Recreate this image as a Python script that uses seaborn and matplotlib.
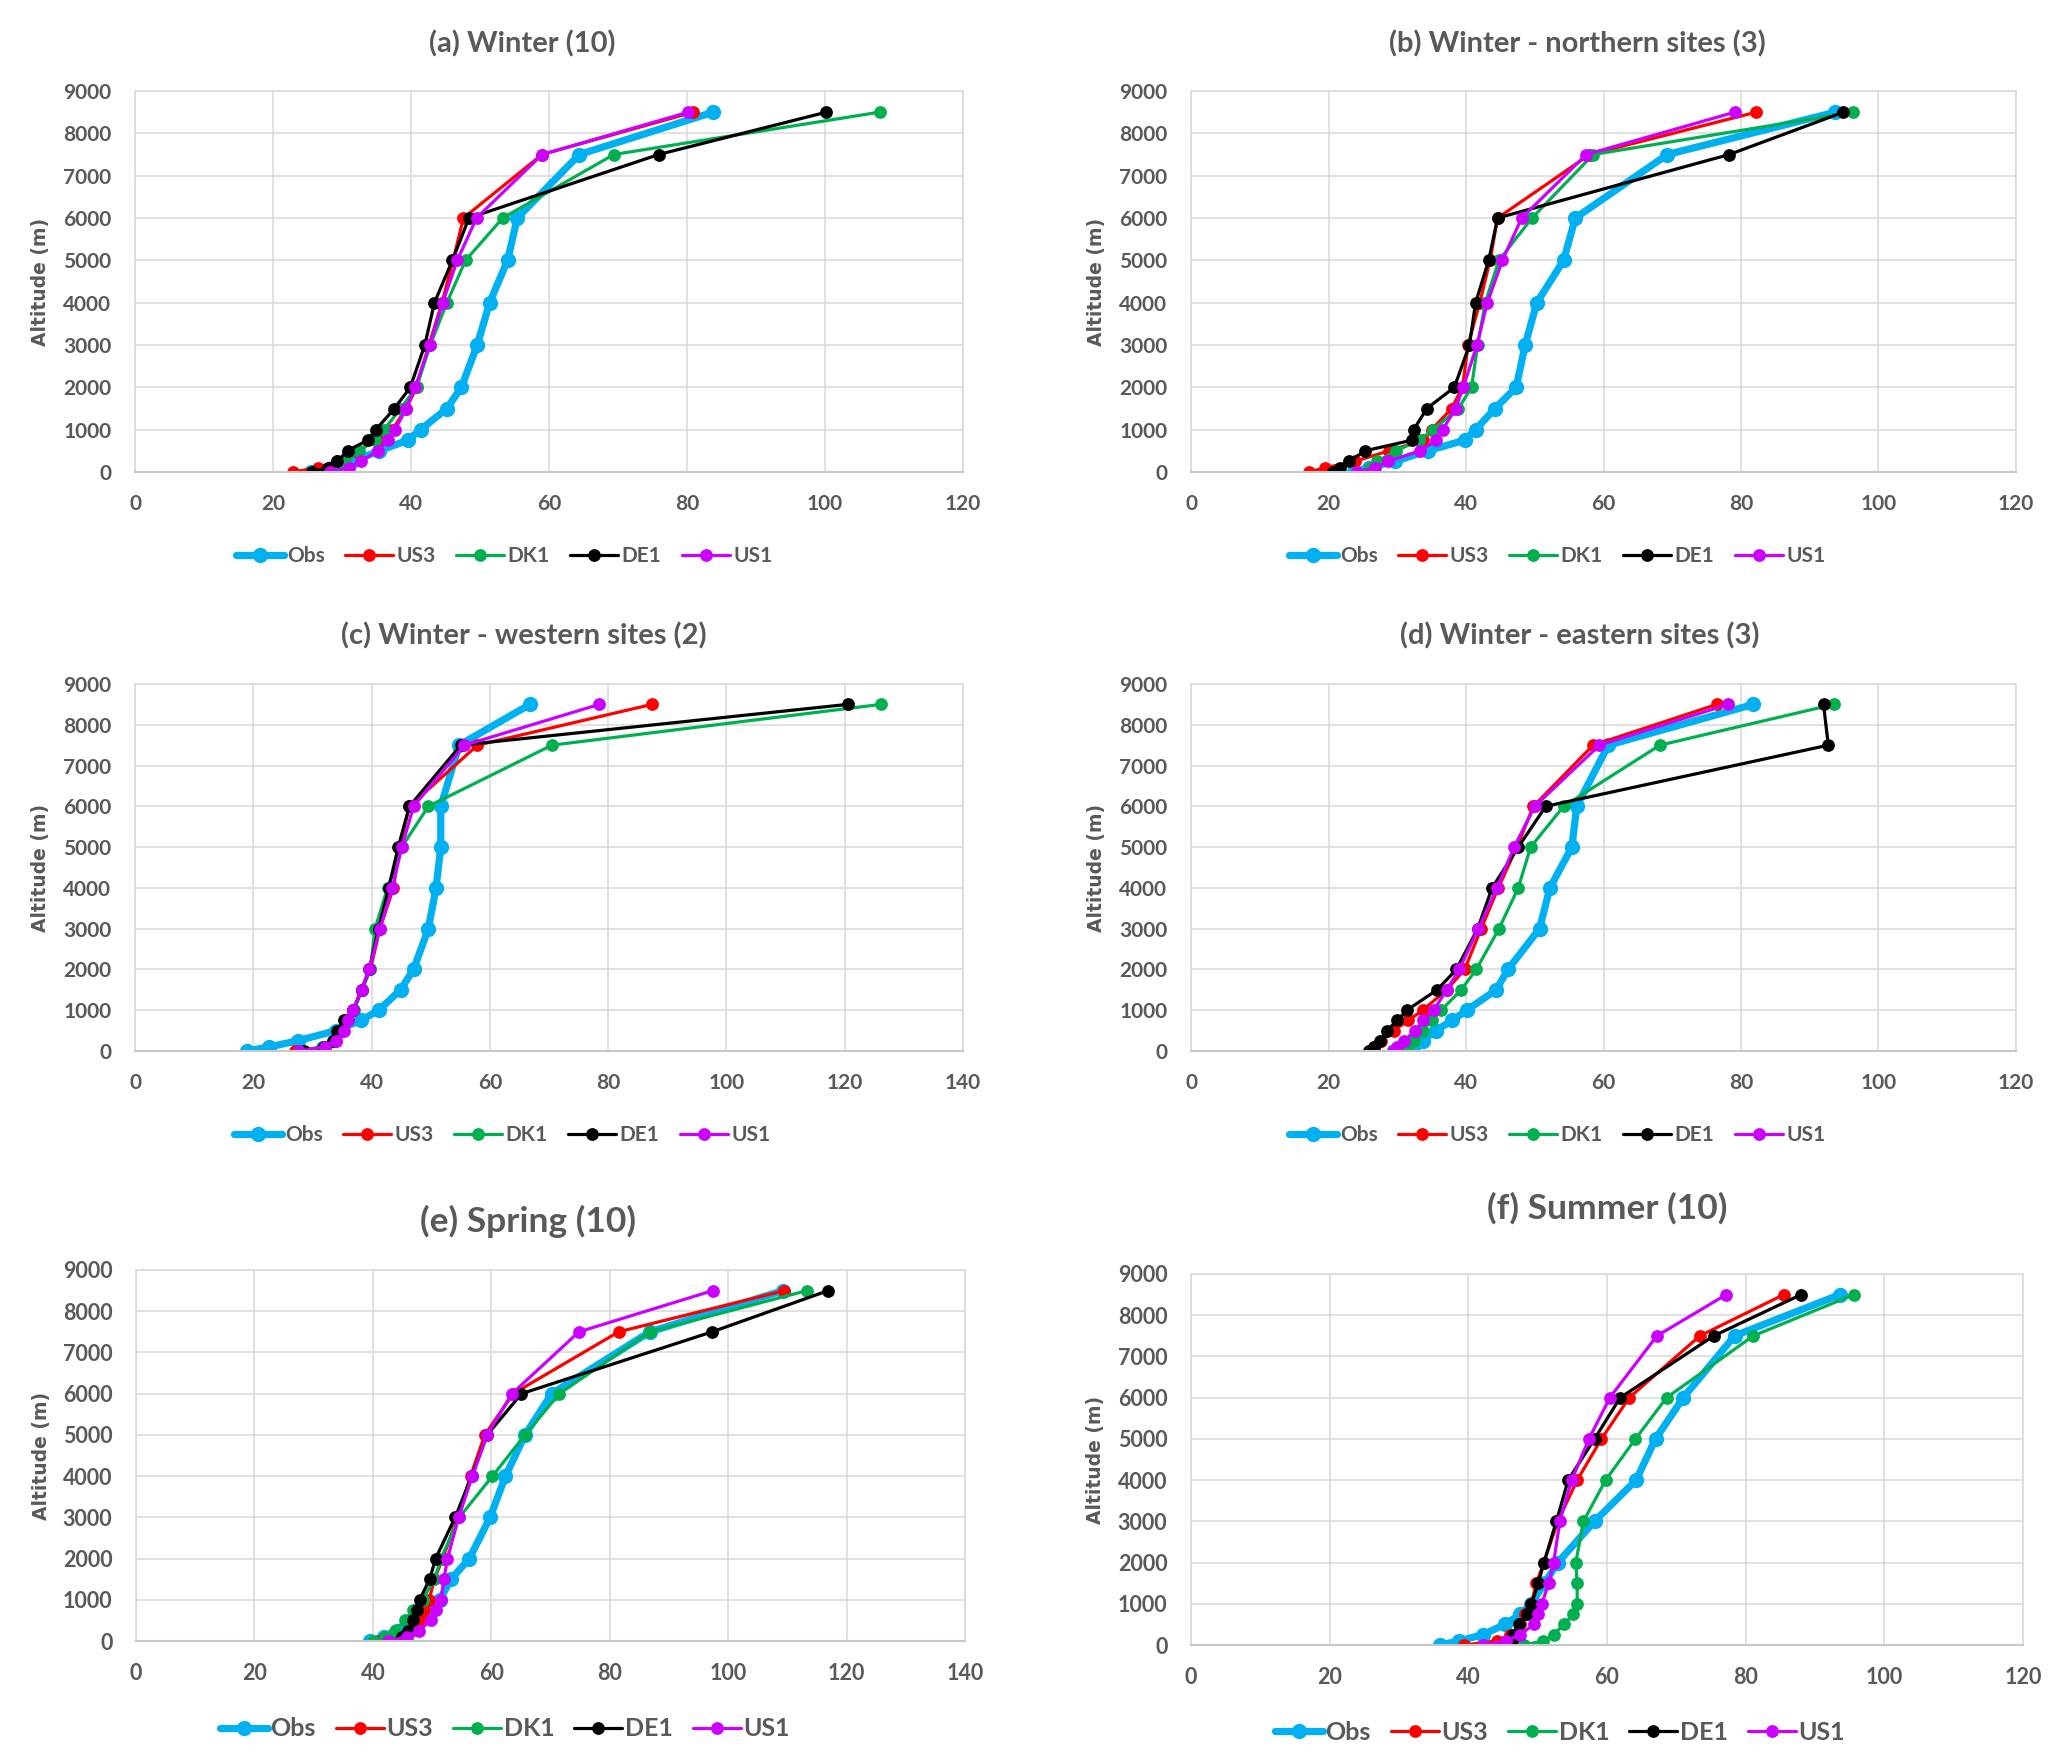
import numpy as np
import pandas as pd
import matplotlib
matplotlib.use("Agg")
import matplotlib.pyplot as plt
import seaborn as sns

# ---------------- data ----------------
ALT = [0, 100, 250, 500, 750, 1000, 1500, 2000, 3000, 4000, 5000, 6000, 7500, 8500]
MODELS = ["Obs", "US3", "DK1", "DE1", "US1"]

a_obs = [25.5, 28.5, 31.5, 35.4, 39.5, 41.4, 45.2, 47.3, 49.6, 51.4, 54.0, 55.4, 64.4, 83.8]
a_us3 = [22.9, 26.5, 29.3, 32.0, 35.0, 37.3, 39.3, 40.8, 42.6, 44.5, 46.1, 47.6, 59.0, 80.9]
a_dk1 = [28.2, 28.8, 30.4, 32.5, 34.8, 36.1, 38.5, 40.8, 42.8, 45.2, 47.9, 53.3, 69.4, 107.9]
a_de1 = [25.7, 28.0, 29.3, 30.8, 33.7, 34.9, 37.6, 39.9, 42.0, 43.4, 46.0, 48.4, 75.9, 100.2]
a_us1 = [28.3, 31.0, 32.7, 35.2, 36.6, 37.7, 39.3, 40.6, 42.7, 44.6, 46.7, 49.5, 59.0, 80.2]

b_obs = [23.7, 25.9, 29.6, 34.4, 39.8, 41.4, 44.2, 47.3, 48.6, 50.3, 54.2, 55.9, 69.3, 93.7]
b_us3 = [17.2, 19.5, 23.8, 28.8, 33.8, 35.0, 37.9, 39.5, 40.3, 42.0, 43.5, 44.6, 58.0, 82.2]
b_dk1 = [25.7, 26.0, 27.1, 29.8, 33.2, 35.2, 38.9, 40.8, 41.7, 42.8, 44.8, 49.6, 58.5, 96.3]
b_de1 = [20.6, 21.6, 23.0, 25.3, 32.1, 32.4, 34.3, 38.3, 40.5, 41.4, 43.3, 44.6, 78.3, 94.9]
b_us1 = [24.2, 26.8, 28.6, 33.3, 35.7, 36.6, 38.5, 39.6, 41.6, 43.1, 45.3, 48.1, 57.5, 79.1]

c_obs = [18.9, 22.7, 27.5, 34.0, 38.2, 41.2, 44.9, 47.1, 49.6, 50.9, 51.7, 51.7, 54.8, 66.8]
c_us3 = [27.0, 32.1, 34.0, 34.9, 36.0, 36.9, 38.3, 39.8, 41.4, 43.7, 44.7, 46.4, 57.9, 87.4]
c_dk1 = [27.8, 31.7, 33.4, 34.3, 35.9, 37.0, 38.4, 39.8, 40.6, 42.7, 45.1, 49.6, 70.5, 126.1]
c_de1 = [28.6, 32.0, 33.4, 34.2, 35.3, 36.9, 38.3, 39.6, 41.2, 42.9, 44.5, 46.4, 55.1, 120.5]
c_us1 = [27.8, 32.1, 34.0, 35.3, 36.0, 36.9, 38.3, 39.6, 41.4, 43.5, 45.1, 47.1, 55.7, 78.5]

d_obs = [29.5, 32.3, 33.7, 35.6, 38.0, 40.1, 44.4, 46.1, 50.7, 52.2, 55.4, 56.1, 60.7, 81.8]
d_us3 = [25.9, 26.6, 27.6, 29.5, 31.6, 33.7, 37.2, 39.8, 42.2, 44.7, 47.4, 49.8, 58.5, 76.5]
d_dk1 = [30.7, 31.4, 32.4, 33.7, 35.0, 36.4, 39.3, 41.5, 44.8, 47.6, 49.4, 54.2, 68.2, 93.5]
d_de1 = [25.9, 26.6, 27.5, 28.5, 30.0, 31.4, 35.8, 38.6, 41.7, 43.8, 47.6, 51.6, 92.7, 92.0]
d_us1 = [29.4, 30.0, 31.0, 32.6, 33.8, 35.3, 37.2, 39.0, 41.8, 44.5, 47.0, 50.0, 59.4, 78.1]

e_obs = [39.5, 41.8, 44.0, 47.5, 49.5, 51.3, 53.2, 56.3, 59.8, 62.4, 65.7, 70.2, 86.8, 109.3]
e_us3 = [41.1, 44.3, 46.5, 48.1, 48.7, 49.5, 50.4, 51.8, 54.3, 56.5, 58.9, 63.7, 81.5, 109.5]
e_dk1 = [40.0, 42.0, 43.7, 45.4, 46.8, 48.4, 50.4, 51.5, 54.6, 60.2, 65.7, 71.5, 86.8, 113.3]
e_de1 = [44.5, 45.0, 45.9, 46.8, 47.4, 47.9, 49.6, 50.6, 53.9, 56.7, 59.3, 65.1, 97.3, 116.9]
e_us1 = [42.6, 45.7, 47.8, 49.8, 50.6, 51.5, 52.0, 52.6, 54.5, 56.8, 59.3, 63.5, 74.8, 97.4]

f_obs = [35.9, 38.7, 42.1, 45.3, 47.5, 49.1, 51.0, 52.9, 58.2, 64.2, 67.0, 71.0, 78.4, 93.6]
f_us3 = [39.4, 44.1, 46.0, 47.5, 48.2, 49.1, 49.8, 50.9, 52.9, 55.7, 59.2, 63.2, 73.4, 85.5]
f_dk1 = [48.0, 50.8, 52.3, 53.8, 55.1, 55.7, 55.7, 55.5, 56.6, 59.8, 64.1, 68.6, 81.1, 95.6]
f_de1 = [45.3, 46.3, 46.5, 47.3, 48.5, 49.1, 50.1, 50.9, 52.7, 54.4, 58.2, 61.9, 75.4, 88.0]
f_us1 = [42.1, 45.4, 47.5, 49.4, 50.0, 50.6, 51.6, 52.3, 53.2, 54.9, 57.4, 60.4, 67.2, 77.2]

TITLES = ["(a) Winter (10)", "(b) Winter - northern sites (3)",
          "(c) Winter - western sites (2)", "(d) Winter - eastern sites (3)",
          "(e) Spring (10)", "(f) Summer (10)"]
XMAX = [120, 120, 140, 120, 140, 120]
YLABEL = "Altitude (m)"

PANELS = [
    [a_obs, a_us3, a_dk1, a_de1, a_us1],
    [b_obs, b_us3, b_dk1, b_de1, b_us1],
    [c_obs, c_us3, c_dk1, c_de1, c_us1],
    [d_obs, d_us3, d_dk1, d_de1, d_us1],
    [e_obs, e_us3, e_dk1, e_de1, e_us1],
    [f_obs, f_us3, f_dk1, f_de1, f_us1],
]

# ---------------- style ----------------
sns.set_style("white")
plt.rcParams["font.family"] = ["Lato", "DejaVu Sans"]
TXT = "#595959"
COLORS = {"Obs": "#00B0F0", "US3": "#FF0000", "DK1": "#00B050",
          "DE1": "#000000", "US1": "#CC00FF"}
LW = {"Obs": 5.2, "US3": 2.3, "DK1": 2.3, "DE1": 2.3, "US1": 2.3}
MS = {"Obs": 11.0, "US3": 9.2, "DK1": 9.2, "DE1": 9.2, "US1": 9.2}

W, H = 2067, 1759
fig = plt.figure(figsize=(W / 100, H / 100), dpi=100)
fig.patch.set_facecolor("white")

# axes rectangles in pixels: left, right, top, bottom
RECTS = [(135, 963, 91, 472), (1191, 2016, 91, 472),
         (135, 963, 684, 1051), (1191, 2016, 684, 1051),
         (136, 965, 1270, 1641), (1191, 2023, 1274, 1645)]
TITLE_POS = [(522, 44), (1577, 44), (524, 636), (1580, 636), (528, 1221), (1607, 1208)]
LEG_POS = [(504, 556), (1557, 556), (502, 1135), (1557, 1135), (505, 1729), (1560, 1732)]
TITLE_FS = [21, 21, 21, 21, 25.5, 25.5]
LEG_FS = [15, 15, 15, 15, 18, 18]
LEG_HL = [2.3, 2.3, 2.3, 2.3, 1.92, 1.92]
LEG_CS = [1.0, 1.0, 1.0, 1.0, 0.8, 0.8]
LEG_TP = [0.15, 0.15, 0.15, 0.15, 0.1, 0.1]
TICK_FS = [15, 15, 15, 15, 15.5, 15.5]

for i, series in enumerate(PANELS):
    l, r, t, b = RECTS[i]
    ax = fig.add_axes([l / W, 1 - b / H, (r - l) / W, (b - t) / H])
    for name, vals in zip(MODELS, series):
        df = pd.DataFrame({"speed": vals, "alt": ALT})
        sns.lineplot(data=df, x="speed", y="alt", sort=False, estimator=None,
                     ax=ax, color=COLORS[name], linewidth=LW[name],
                     marker="o", markersize=MS[name], markeredgewidth=0,
                     label=name, legend=False)
    ax.set_xlim(0, XMAX[i])
    ax.set_ylim(0, 9000)
    ax.set_xticks(np.arange(0, XMAX[i] + 1, 20))
    ax.set_yticks(np.arange(0, 9001, 1000))
    ax.grid(True, color="#D9D9D9", linewidth=1.1)
    ax.set_axisbelow(True)
    for sp in ax.spines.values():
        sp.set_color("#D9D9D9")
        sp.set_linewidth(1.1)
    ax.spines["bottom"].set_color("#C8C8C8")
    ax.spines["bottom"].set_linewidth(1.5)
    ax.tick_params(axis="both", length=0, labelsize=TICK_FS[i], labelcolor=TXT)
    ax.tick_params(axis="y", pad=17)
    ax.tick_params(axis="x", pad=16)
    for lab in ax.get_xticklabels() + ax.get_yticklabels():
        lab.set_fontweight("bold")
    ax.set_xlabel("")
    ax.set_ylabel(YLABEL, fontsize=13.5, fontweight="bold", color=TXT,
                  family=["DejaVu Sans"])
    ax.yaxis.set_label_coords(-0.103, 0.5)
    if ax.get_legend() is not None:
        ax.get_legend().remove()
    handles, labels = ax.get_legend_handles_labels()
    cx, cy = LEG_POS[i]
    fig.legend(handles, labels, loc="center", bbox_to_anchor=(cx / W, 1 - cy / H),
               ncol=5, frameon=False, handlelength=LEG_HL[i],
               handletextpad=LEG_TP[i], columnspacing=LEG_CS[i],
               prop={"size": LEG_FS[i], "weight": "bold"}, labelcolor=TXT)
    tx, ty = TITLE_POS[i]
    fig.text(tx / W, 1 - ty / H, TITLES[i], ha="center", va="center",
             fontsize=TITLE_FS[i], fontweight="bold", color=TXT)

fig.savefig("out.png", dpi=100, facecolor="white")
